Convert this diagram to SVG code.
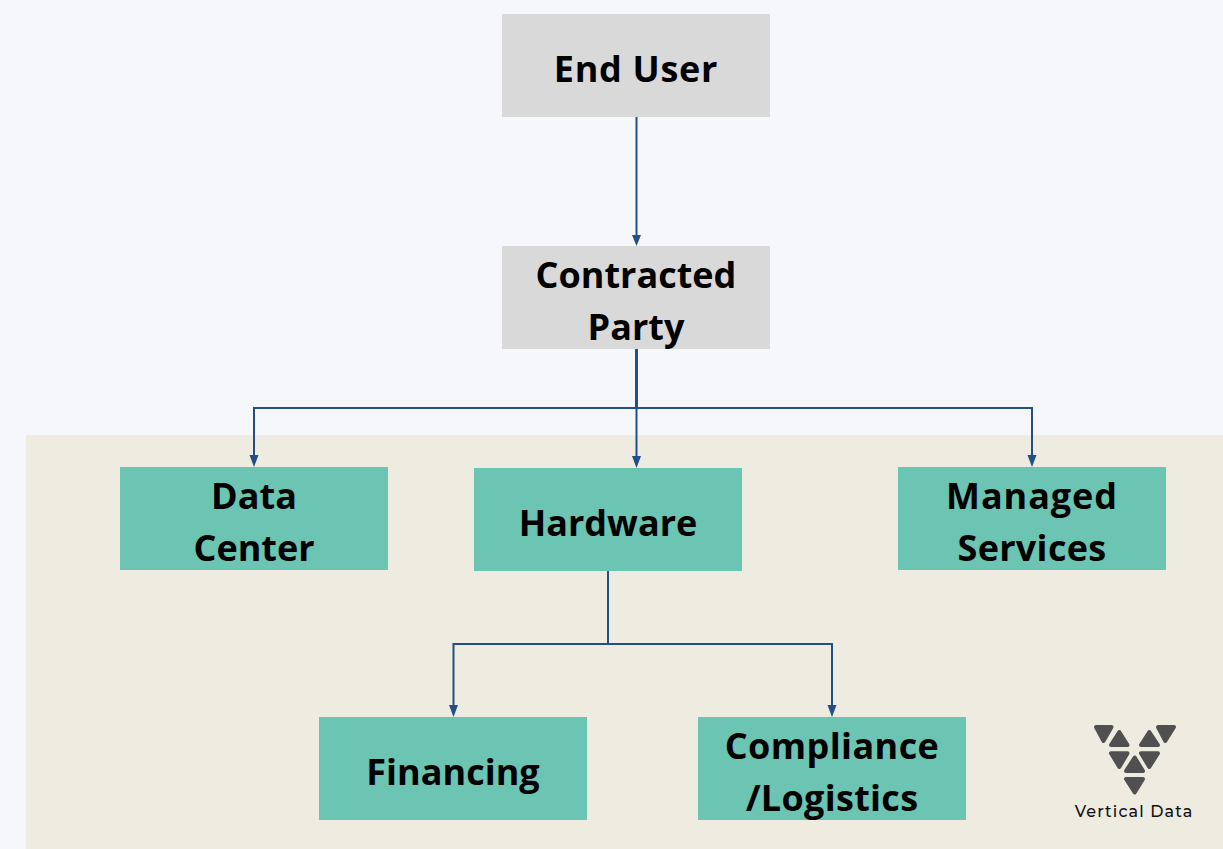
<svg xmlns="http://www.w3.org/2000/svg" width="1223" height="849" viewBox="0 0 1223 849">
<style>
.g{fill:#d9d9d9}.t{fill:#6cc4b2}
text.l{font-family:"Open Sans","Noto Sans",sans-serif;font-weight:700;font-size:36px;fill:#000;text-anchor:middle}
.c{fill:none;stroke:#234f88;stroke-width:2}
.h{fill:#234f88}
.m{fill:#505050;stroke:#505050;stroke-width:4;stroke-linejoin:round}
</style>
<rect width="1223" height="849" fill="#f5f7fb"/>
<rect x="26" y="435" width="1197" height="414" fill="#eeebe0"/>
<g id="connectors">
<path class="c" d="M636.500 117V236"/><polygon class="h" points="632,235 641,235 636.500,246"/>
<path class="c" d="M636.500 349V408" style="stroke-width:3"/>
<path class="c" d="M254 457V408H1032V457"/>
<path class="c" d="M636.500 408V458"/>
<polygon class="h" points="249.500,455 258.500,455 254,467"/>
<polygon class="h" points="632,456 641,456 636.500,468"/>
<polygon class="h" points="1027.500,455 1036.500,455 1032,467"/>
<path class="c" d="M608 571V644"/>
<path class="c" d="M453.500 707V644H832V707"/>
<polygon class="h" points="449,705 458,705 453.500,717"/>
<polygon class="h" points="827.500,705 836.500,705 832,717"/>
</g>
<g id="end-user"><rect class="g" x="502" y="14" width="268" height="103"/><text class="l" x="636" y="81.500" style="letter-spacing:.7px">End User</text></g>
<g id="contracted-party"><rect class="g" x="502" y="246" width="268" height="103"/><text class="l" x="636" y="287.500">Contracted</text><text class="l" x="636" y="339.500">Party</text></g>
<g id="data-center"><rect class="t" x="120" y="467" width="268" height="103"/><text class="l" x="254" y="508.500">Data</text><text class="l" x="254" y="560.500">Center</text></g>
<g id="hardware"><rect class="t" x="474" y="468" width="268" height="103"/><text class="l" x="608" y="535.500">Hardware</text></g>
<g id="managed-services"><rect class="t" x="898" y="467" width="268" height="103"/><text class="l" x="1032" y="508.500" style="letter-spacing:.9px">Managed</text><text class="l" x="1032" y="560.500" style="letter-spacing:.3px">Services</text></g>
<g id="financing"><rect class="t" x="319" y="717" width="268" height="103"/><text class="l" x="453" y="784.500">Financing</text></g>
<g id="compliance-logistics"><rect class="t" x="698" y="717" width="268" height="103"/><text class="l" x="832" y="758.500" style="letter-spacing:.4px">Compliance</text><text class="l" x="832" y="810.500" style="letter-spacing:.3px">/Logistics</text></g>
<g id="logo">
<polygon class="m" points="1096,727 1111.500,727 1103.500,741"/>
<polygon class="m" points="1119.300,732 1127.500,745 1111,745"/>
<polygon class="m" points="1149.300,732 1158,745 1141,745"/>
<polygon class="m" points="1158,727 1174,727 1165.300,741"/>
<polygon class="m" points="1111,753.300 1127.500,753.300 1119.300,767"/>
<polygon class="m" points="1141,753.300 1158,753.300 1149.300,767"/>
<polygon class="m" points="1134.700,757.500 1143,771 1126,771"/>
<polygon class="m" points="1126,779 1143,779 1134.700,792.500"/>
<text x="1134" y="817" style="font-family:Montserrat,'Open Sans','Noto Sans',sans-serif;font-size:16px;font-weight:500;fill:#111;text-anchor:middle;letter-spacing:1.100px">Vertical Data</text>
</g>
</svg>
